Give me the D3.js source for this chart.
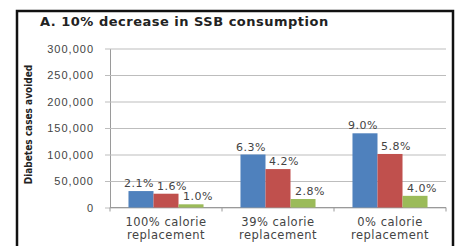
<!DOCTYPE html>
<html>
<head>
<meta charset="utf-8">
<script src="https://cdn.jsdelivr.net/npm/d3@7"></script>
<style>
  body { margin: 0; background: #fff; }
  svg { display: block; font-family: "DejaVu Sans", sans-serif; }
</style>
</head>
<body>
<div id="chart"></div>
<script>
// data
const categories = ["100% calorie replacement", "39% calorie replacement", "0% calorie replacement"];
const categoryLines = [["100% calorie", "replacement"], ["39% calorie", "replacement"], ["0% calorie", "replacement"]];
const seriesNames = ["blue", "red", "green"];
const seriesColors = ["#4F81BD", "#C0504D", "#9BBB59"];
const casesAvoided = [
  [31000, 26000, 6000],     // 100% calorie replacement
  [100000, 72500, 16000],   // 39% calorie replacement
  [140000, 101000, 22000]   // 0% calorie replacement
];
const percentLabels = [
  ["2.1%", "1.6%", "1.0%"],
  ["6.3%", "4.2%", "2.8%"],
  ["9.0%", "5.8%", "4.0%"]
];
const yTicks = [0, 50000, 100000, 150000, 200000, 250000, 300000];
const titleText = "A. 10% decrease in SSB consumption";
const yTitle = "Diabetes cases avoided";

// canvas
const width = 458, height = 246;
const plot = { left: 110, right: 446, top: 48.5, bottom: 207.5 };

const svg = d3.select("#chart").append("svg")
  .attr("width", width).attr("height", height);

svg.append("rect").attr("width", width).attr("height", height).attr("fill", "#fff");

// outer frame
svg.append("rect")
  .attr("x", 17).attr("y", 11)
  .attr("width", 436).attr("height", 250)
  .attr("fill", "none").attr("stroke", "#111").attr("stroke-width", 2.5);

// scales
const x0 = d3.scaleBand().domain(categories)
  .range([plot.left, plot.right]).paddingInner(0.33).paddingOuter(0.165);
const x1 = d3.scaleBand().domain(seriesNames).range([0, x0.bandwidth()]);
const y = d3.scaleLinear().domain([0, 300000]).range([plot.bottom, plot.top]);

// y axis with gridlines
const yAxis = d3.axisLeft(y).tickValues(yTicks)
  .tickFormat(d3.format(","))
  .tickSizeInner(-(plot.right - plot.left)).tickSizeOuter(0).tickPadding(16);
const yAxisG = svg.append("g").attr("transform", `translate(${plot.left},0)`).call(yAxis);
yAxisG.select(".domain").attr("stroke", "#9a9a9a");
yAxisG.selectAll(".tick line").attr("x1", -5).attr("stroke", "#bdbdbd");
yAxisG.selectAll(".tick text")
  .attr("fill", "#444").style("font-size", "11px").style("letter-spacing", "1px");

// x axis
const xAxisG = svg.append("g").attr("transform", `translate(0,${plot.bottom})`);
xAxisG.append("line").attr("x1", plot.left).attr("x2", plot.right).attr("stroke", "#9a9a9a");
d3.range(categories.length + 1).forEach(i => {
  const xx = plot.left + i * x0.step();
  xAxisG.append("line").attr("x1", xx).attr("x2", xx).attr("y1", 0).attr("y2", 4).attr("stroke", "#9a9a9a");
});
categories.forEach((c, i) => {
  const t = xAxisG.append("text")
    .attr("x", x0(c) + x0.bandwidth() / 2)
    .attr("text-anchor", "middle").attr("fill", "#444")
    .style("font-size", "11.5px").style("letter-spacing", "0.5px");
  categoryLines[i].forEach((line, j) => {
    t.append("tspan").attr("x", x0(c) + x0.bandwidth() / 2).attr("y", 18.5 + j * 13).text(line);
  });
});

// bars
const labelDx = [-2, 6, 7];
categories.forEach((c, i) => {
  const g = svg.append("g").attr("transform", `translate(${x0(c)},0)`);
  g.selectAll("rect").data(casesAvoided[i]).enter().append("rect")
    .attr("x", (d, k) => x1(seriesNames[k]))
    .attr("y", d => y(d))
    .attr("width", x1.bandwidth())
    .attr("height", d => y(0) - y(d))
    .attr("fill", (d, k) => seriesColors[k]);
  g.selectAll("text").data(casesAvoided[i]).enter().append("text")
    .attr("x", (d, k) => x1(seriesNames[k]) + x1.bandwidth() / 2 + labelDx[k])
    .attr("y", d => y(d) - 4)
    .attr("text-anchor", "middle").attr("fill", "#444")
    .style("font-size", "11px").style("letter-spacing", "0.5px")
    .text((d, k) => percentLabels[i][k]);
});

// title
svg.append("text").attr("x", 40).attr("y", 26)
  .attr("fill", "#222").style("font-size", "13px").style("font-weight", "bold")
  .style("letter-spacing", "0.5px")
  .text(titleText);

// y axis title
svg.append("text")
  .attr("transform", `translate(32,124.5) rotate(-90)`)
  .attr("text-anchor", "middle").attr("fill", "#222")
  .style("font-family", "'DejaVu Sans Condensed', 'DejaVu Sans', sans-serif")
  .style("font-size", "10px").style("font-weight", "bold")
  .text(yTitle);
</script>
</body>
</html>
